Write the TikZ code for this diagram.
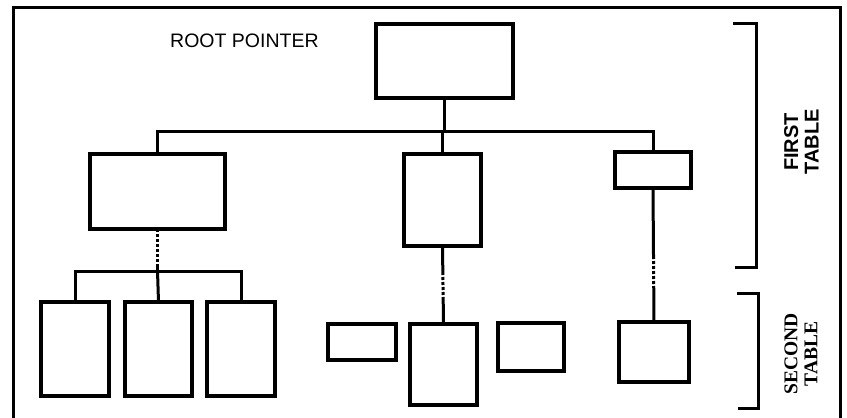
\documentclass[tikz,border=0pt]{standalone}
\usepackage{fontspec}
\setmainfont{Liberation Sans}
\newfontfamily\serifbold{Liberation Serif}
\usetikzlibrary{calc}

\begin{document}
\begin{tikzpicture}[x=1pt, y=-1pt,
    box/.style={draw, line width=3.5pt, inner sep=0pt, outer sep=0pt, line join=miter},
    link/.style={line width=3pt, line join=miter},
    bracket/.style={line width=3pt, line join=miter},
    frame/.style={line width=3pt, line join=miter},
    label/.style={inner sep=0pt, font=\fontsize{19.5}{20}\selectfont}]
  \clip (0,0) rectangle (847,418);

  % outer frame (open at the bottom edge)
  \draw[frame] (13,420) -- (13,7) -- (840,7) -- (840,420);

  % first table
  \node[box, minimum width=137pt, minimum height=74pt] (root) at (444.5,61) {};
  \node[box, minimum width=135pt, minimum height=75pt] (L) at (157.5,191.5) {};
  \node[box, minimum width=77pt,  minimum height=92pt] (M) at (442.5,200) {};
  \node[box, minimum width=76pt,  minimum height=36pt] (R) at (653,170) {};

  % second table
  \node[box, minimum width=68pt, minimum height=94pt] (S1) at (75,349) {};
  \node[box, minimum width=67pt, minimum height=94pt] (S2) at (158.5,349) {};
  \node[box, minimum width=68pt, minimum height=94pt] (S3) at (241,349) {};
  \node[box, minimum width=68pt, minimum height=36pt] (B1) at (362,342) {};
  \node[box, minimum width=67pt, minimum height=81pt] (B2) at (443.5,364.5) {};
  \node[box, minimum width=66pt, minimum height=48pt] (B3) at (531,347) {};
  \node[box, minimum width=70pt, minimum height=60pt] (R2) at (654,352) {};

  % labels
  \node[label, anchor=base west] (rp) at (170,47) {ROOT POINTER};
  \node[label, rotate=90, align=center, font=\bfseries\fontsize{20}{20.5}\selectfont]
    (ft) at (801.5,142) {FIRST\\TABLE};
  \node[label, rotate=90, align=center, font=\serifbold\bfseries\fontsize{19.5}{20}\selectfont]
    (st) at (801,354) {SECOND\\TABLE};

  % root to first-table entries
  \coordinate (tb) at (444.5,131);
  \draw[link] (root.south) -- (tb);
  \draw[link] (tb) -| (L.north);
  \draw[link] (tb) -| (R.north);
  \draw[link] (M.north) -- (M.north |- tb);

  % left entry to its three sub-tables
  \coordinate (lb) at (157.5,271);
  \draw[link, dash pattern=on 3pt off 2pt on 3pt off 2pt on 3pt off 2pt on 3pt off 2pt
        on 3pt off 2pt on 3pt off 2pt on 3pt off 2pt on 30pt] (L.south) -- (lb);
  \draw[link] (lb) -| (S1.north);
  \draw[link] (lb) -| (S3.north);
  \draw[link] (lb) -- (S2.north);

  % middle entry
  \draw[link, dash pattern=on 29pt off 2pt on 3pt off 2pt on 3pt off 2pt on 3pt off 2pt
        on 3pt off 2pt on 60pt] (M.south) -- (B2.north);

  % right entry
  \draw[link, dash pattern=on 71pt off 2pt on 3pt off 2pt on 3pt off 2pt on 3pt off 2pt
        on 3pt off 2pt on 3pt off 2pt on 80pt] (R.south) -- (R2.north);

  % brackets marking the two tables
  \draw[bracket] (733,23) -- (756,23) -- (756,267) -- (735,267);
  \draw[bracket] (737,293) -- (758,293) -- (758,408) -- (738,408);
\end{tikzpicture}
\end{document}
